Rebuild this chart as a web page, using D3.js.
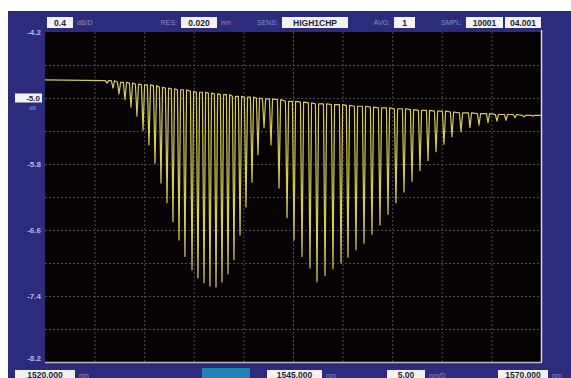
<!DOCTYPE html>
<html><head><meta charset="utf-8">
<script src="https://cdn.jsdelivr.net/npm/d3@7"></script>
<style>
html,body{margin:0;padding:0;background:#fff;}
svg{display:block;font-family:"Liberation Sans","DejaVu Sans",sans-serif;}
</style></head><body>
<svg id="osa" width="571" height="378"></svg>
<script>
// Sweep settings (nm) and level scale (dB)
const wlStart = 1520.000, wlStop = 1570.000, wlCenter = 1545.000, wlPerDiv = 5.00;
const levelTop = -4.2, dbPerDiv = 0.4, refLevel = -5.0;
const levelLabels = [-4.2, -5.8, -6.6, -7.4, -8.2];

// Measured trace: flat start, then interference fringes (dip centre, level beside the dip, dip floor)
const startLevel = -4.78, endLevel = -5.21;
const dipWl = [1526.25,1526.85,1527.46,1528.06,1528.67,1529.27,1529.88,1530.48,1531.09,1531.69,
  1532.30,1532.90,1533.51,1534.11,1534.82,1535.42,1536.03,1536.63,1537.24,1537.84,1538.45,1539.05,
  1539.66,1540.26,1540.87,1541.47,1542.08,
  1542.78,1543.59,1544.40,1545.10,1545.91,1546.71,1547.42,1548.23,1549.03,1549.84,1550.54,1551.35,
  1552.16,1552.96,1553.77,1554.58,1555.38,1556.19,1557.00,1557.80,1558.61,1559.42,1560.22,1561.03,
  1561.94,1562.84,1563.75,1564.66,1565.56,1566.47,1567.38,1568.29,1569.19];
const dipTop = [-4.79,-4.79,-4.81,-4.81,-4.82,-4.83,-4.84,-4.84,-4.85,-4.87,
  -4.88,-4.89,-4.90,-4.90,-4.92,-4.93,-4.93,-4.94,-4.95,-4.96,-4.96,-4.98,
  -4.98,-4.99,-4.99,-5.00,-5.01,
  -5.01,-5.02,-5.04,-5.04,-5.05,-5.06,-5.07,-5.07,-5.08,-5.08,-5.09,-5.10,
  -5.10,-5.11,-5.12,-5.12,-5.13,-5.13,-5.14,-5.15,-5.15,-5.16,-5.16,-5.17,
  -5.18,-5.18,-5.19,-5.19,-5.20,-5.20,-5.20,-5.21,-5.21];
const dipFloor = [-4.82,-4.88,-4.95,-5.02,-5.11,-5.22,-5.39,-5.57,-5.79,-6.03,
  -6.27,-6.50,-6.72,-6.92,-7.08,-7.18,-7.24,-7.28,-7.29,-7.23,-7.13,-6.96,
  -6.66,-6.32,-6.02,-5.69,-5.36,
  -5.57,-6.09,-6.45,-6.72,-6.92,-7.06,-7.23,-7.15,-7.07,-7.00,-6.93,-6.84,
  -6.76,-6.65,-6.54,-6.41,-6.27,-6.14,-6.01,-5.88,-5.76,-5.65,-5.56,-5.47,
  -5.41,-5.36,-5.33,-5.30,-5.28,-5.27,-5.24,-5.23,-5.22];

// Instrument status fields
const headerFields = [
  {label: null,    value: "0.4",      unit: "dB/D", bx: 47,  bw: 26},
  {label: "RES:",  value: "0.020",    unit: "nm",   bx: 181, bw: 36},
  {label: "SENS:", value: "HIGH1CHP", unit: null,   bx: 282, bw: 66},
  {label: "AVG:",  value: "1",        unit: null,   bx: 394, bw: 21},
  {label: "SMPL:", value: "10001",    unit: null,   bx: 466, bw: 37},
  {label: null,    value: "04.001",   unit: null,   bx: 505, bw: 36}
];
const footerFields = [
  {value: d3.format(".3f")(wlStart),  unit: "nm",   bx: 15,  bw: 60},
  {value: d3.format(".3f")(wlCenter), unit: "nm",   bx: 267, bw: 55},
  {value: d3.format(".2f")(wlPerDiv), unit: "nm/D", bx: 387, bw: 38},
  {value: d3.format(".3f")(wlStop),   unit: "nm",   bx: 498, bw: 50}
];

const W = 571, H = 378;
const plot = {l: 45, r: 541, t: 32, b: 362};
const navy = "#2d2c7c", labelCol = "#b9b9ec", dimCol = "#8a8ac4";

const svg = d3.select("#osa");
svg.append("rect").attr("x", 8).attr("y", 11).attr("width", W - 8).attr("height", H - 11).attr("fill", navy);
svg.append("rect").attr("x", plot.l).attr("y", plot.t).attr("width", plot.r - plot.l)
  .attr("height", plot.b - plot.t).attr("fill", "#070304");

const x = d3.scaleLinear().domain([wlStart, wlStop]).range([plot.l, plot.r]);
const levelBottom = levelTop - 10 * dbPerDiv;
const y = d3.scaleLinear().domain([levelBottom, levelTop]).range([plot.b, plot.t]);

// Dotted division grid
const gridCol = "#4a4a4a";
const xg = svg.append("g").attr("transform", `translate(0,${plot.b})`)
  .call(d3.axisBottom(x).tickValues(d3.range(1, 10).map(i => wlStart + i * wlPerDiv))
    .tickSize(-(plot.b - plot.t)).tickFormat(""));
const yg = svg.append("g").attr("transform", `translate(${plot.l},0)`)
  .call(d3.axisLeft(y).tickValues(d3.range(1, 10).map(i => levelTop - i * dbPerDiv))
    .tickSize(-(plot.r - plot.l)).tickFormat(""));
[xg, yg].forEach(g => {
  g.select(".domain").remove();
  g.selectAll(".tick line").attr("stroke", gridCol).attr("stroke-dasharray", "2,2").attr("stroke-width", 1);
});

// Frame edges
svg.append("line").attr("x1", plot.l).attr("x2", plot.r + 1).attr("y1", plot.b + 0.5).attr("y2", plot.b + 0.5)
  .attr("stroke", "#b8b8c4").attr("stroke-width", 1.5);
svg.append("line").attr("x1", plot.r + 0.5).attr("x2", plot.r + 0.5).attr("y1", plot.t - 2).attr("y2", plot.b)
  .attr("stroke", "#d8d8e8").attr("stroke-width", 1.5);

// Trace
const pts = [[wlStart, startLevel]];
const hw = 0.16;
dipWl.forEach((w, i) => {
  pts.push([w - hw, dipTop[i]], [w, dipFloor[i]], [w + hw, dipTop[i]]);
});
pts.push([wlStop, endLevel]);
svg.append("path").datum(pts)
  .attr("d", d3.line().x(d => x(d[0])).y(d => y(d[1])))
  .attr("fill", "none").attr("stroke", "#d4cb5a").attr("stroke-width", 1.2)
  .attr("stroke-linejoin", "round");

// Level labels
svg.append("g").selectAll("text").data(levelLabels).join("text")
  .attr("x", 41).attr("y", d => Math.min(y(d) + 3, plot.b - 1))
  .attr("text-anchor", "end").attr("font-size", 8).attr("font-weight", "bold")
  .attr("fill", labelCol).text(d => d.toFixed(1));
// Reference level marker
svg.append("rect").attr("x", 15).attr("y", y(refLevel) - 4.5).attr("width", 27).attr("height", 9).attr("fill", "#f2f2f2");
svg.append("text").attr("x", 40).attr("y", y(refLevel) + 3).attr("text-anchor", "end")
  .attr("font-size", 8).attr("font-weight", "bold").attr("fill", "#1c1c40").text(refLevel.toFixed(1));
svg.append("text").attr("x", 36).attr("y", y(refLevel) + 12).attr("text-anchor", "end")
  .attr("font-size", 6).attr("fill", dimCol).text("dB");

// Header status line
const hdr = svg.append("g");
headerFields.forEach(f => {
  if (f.label) hdr.append("text").attr("x", f.bx - 4).attr("y", 25).attr("text-anchor", "end")
    .attr("font-size", 7).attr("fill", dimCol).text(f.label);
  hdr.append("rect").attr("x", f.bx).attr("y", 17).attr("width", f.bw).attr("height", 11).attr("fill", "#f2f2f2");
  hdr.append("text").attr("x", f.bx + f.bw / 2).attr("y", 25.5).attr("text-anchor", "middle")
    .attr("font-size", 8.5).attr("font-weight", "bold").attr("fill", "#1c1c40").text(f.value);
  if (f.unit) hdr.append("text").attr("x", f.bx + f.bw + 4).attr("y", 25)
    .attr("font-size", 7).attr("fill", dimCol).text(f.unit);
});

// Footer sweep settings
const ftr = svg.append("g");
ftr.append("rect").attr("x", 202).attr("y", 368).attr("width", 48).attr("height", 10).attr("fill", "#1f82b6");
footerFields.forEach(f => {
  ftr.append("rect").attr("x", f.bx).attr("y", 370).attr("width", f.bw).attr("height", 9).attr("fill", "#f2f2f2");
  ftr.append("text").attr("x", f.bx + f.bw / 2).attr("y", 377.5).attr("text-anchor", "middle")
    .attr("font-size", 8.5).attr("font-weight", "bold").attr("fill", "#1c1c40").text(f.value);
  ftr.append("text").attr("x", f.bx + f.bw + 4).attr("y", 377.5)
    .attr("font-size", 7).attr("fill", dimCol).text(f.unit);
});
</script>
</body></html>
